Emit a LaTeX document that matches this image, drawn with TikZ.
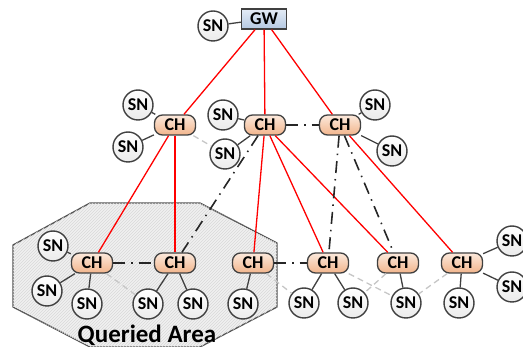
\documentclass[tikz,border=0pt]{standalone}
\usepackage{fontspec}
\setmainfont{Carlito}
\usetikzlibrary{patterns,calc}
\definecolor{chtop}{HTML}{FCE9DC}
\definecolor{chbot}{HTML}{F2B58C}
\definecolor{gwtop}{HTML}{E4ECF6}
\definecolor{gwbot}{HTML}{B4C8E2}
\definecolor{edge}{HTML}{404040}
\begin{document}
\begin{tikzpicture}[x=1pt,y=-1pt,
  every node/.style={font=\bfseries\fontsize{18}{18}\selectfont},
  snnode/.style={circle,draw=edge,line width=1.4pt,minimum size=30pt,inner sep=0pt,top color=white,bottom color=gray!16},
  chnode/.style={rounded corners=8pt,draw=edge,line width=1.3pt,minimum width=41pt,minimum height=20pt,inner sep=0pt,top color=chtop,bottom color=chbot},
  gwnode/.style={draw=edge,line width=1.3pt,minimum width=45pt,minimum height=20pt,inner sep=0pt,top color=gwtop,bottom color=gwbot},
  redlink/.style={red,line width=1.3pt},
  dashdot/.style={black!85,line width=1.6pt,dash pattern=on 12pt off 6pt on 1.5pt off 6pt},
  greydash/.style={gray!45,line width=1.3pt,dash pattern=on 6pt off 4pt},
  snlink/.style={edge,line width=1.3pt},
  areastyle/.style={draw=edge!90,line width=1.3pt,fill=gray!12,postaction={pattern=north east lines,pattern color=gray!30}}
]
\useasboundingbox (0,0) rectangle (523,347);

% queried area
\draw[areastyle] (90,203) -- (200,203) -- (277,243) -- (277,307) -- (200,347) -- (90,347) -- (13,307) -- (13,245) -- cycle;
\node[font=\bfseries\fontsize{25}{25}\selectfont] (qa) at (147,335) {Queried Area};

% nodes
\node[gwnode] (gw) at (264,19) {GW};
\node[snnode] (sngw) at (213,26) {SN};

\node[chnode] (ch1) at (175,125) {CH};
\node[chnode] (ch2) at (265,125) {CH};
\node[chnode] (ch3) at (340,125) {CH};

\node[snnode] (s1a) at (138,105) {SN};
\node[snnode] (s1b) at (128,147) {SN};
\node[snnode] (s2a) at (223,115) {SN};
\node[snnode] (s2b) at (225,154) {SN};
\node[snnode] (s3a) at (375,105) {SN};
\node[snnode] (s3b) at (392,151) {SN};

\node[chnode] (cha) at (92,263) {CH};
\node[chnode] (chb) at (175,263) {CH};
\node[chnode] (chc) at (253,263) {CH};
\node[chnode] (chd) at (328,263) {CH};
\node[chnode] (che) at (398,263) {CH};
\node[chnode] (chf) at (462,263) {CH};

\node[snnode] (sa1) at (53,246) {SN};
\node[snnode] (sa2) at (47,291) {SN};
\node[snnode] (sa3) at (87,304) {SN};
\node[snnode] (sb1) at (148,304) {SN};
\node[snnode] (sb2) at (193,304) {SN};
\node[snnode] (sc1) at (243,304) {SN};
\node[snnode] (sd1) at (304,303) {SN};
\node[snnode] (sd2) at (353,303) {SN};
\node[snnode] (se1) at (406,303) {SN};
\node[snnode] (sf1) at (459,303) {SN};
\node[snnode] (sf2) at (512,241) {SN};
\node[snnode] (sf3) at (512,287) {SN};

% SN links
\draw[snlink] (gw) -- (sngw);
\foreach \c/\s in {ch1/s1a,ch1/s1b,ch2/s2a,ch2/s2b,ch3/s3a,ch3/s3b,cha/sa1,cha/sa2,cha/sa3,chb/sb1,chb/sb2,chc/sc1,chd/sd1,chd/sd2,che/se1,chf/sf1,chf/sf2,chf/sf3}
  \draw[snlink] (\c) -- (\s);

% grey dashed links
\draw[greydash] (ch1) -- (s2b);
\draw[greydash] (cha) -- (sb1);
\draw[greydash] (chc) -- (sd1);
\draw[greydash] (chd) -- (se1);
\draw[greydash] (che) -- (sd2);
\draw[greydash] (chf) -- (se1);

% red links
\draw[redlink] (gw) -- (ch1);
\draw[redlink] (gw) -- (ch2);
\draw[redlink] (gw) -- (ch3);
\draw[redlink] (ch1) -- (cha);
\draw[redlink] (ch1) -- (chb);
\draw[redlink] (ch2) -- (chc);
\draw[redlink] (ch2) -- (chd);
\draw[redlink] (ch2) -- (che);
\draw[redlink] (ch3) -- (chf);

% dash-dot links
\draw[dashdot] (ch2) -- (ch3);
\draw[dashdot] (cha) -- (chb);
\draw[dashdot] (chc) -- (chd);
\draw[dashdot] (ch2) -- (chb);
\draw[dashdot] (ch3) -- (chd);
\draw[dashdot] (ch3) -- (che);
\end{tikzpicture}
\end{document}
